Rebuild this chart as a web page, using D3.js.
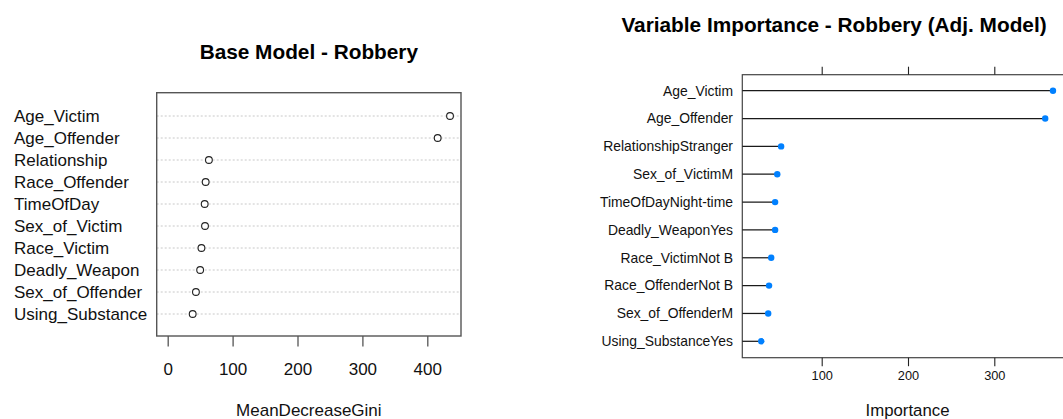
<!DOCTYPE html>
<html>
<head>
<meta charset="utf-8">
<script src="https://cdn.jsdelivr.net/npm/d3@7"></script>
<style>
  body { margin: 0; background: #fff; }
  svg { display: block; font-family: "Liberation Sans", Arial, sans-serif; }
</style>
</head>
<body>
<div id="chart"></div>
<script>
var svgWidth = 1063;
var svgHeight = 419;

// left panel: randomForest varImpPlot
var baseVars = ["Age_Victim", "Age_Offender", "Relationship", "Race_Offender", "TimeOfDay",
  "Sex_of_Victim", "Race_Victim", "Deadly_Weapon", "Sex_of_Offender", "Using_Substance"];
var baseGini = [435, 416, 63.5, 58.5, 57, 57.5, 52, 50, 43.5, 38.5];
var baseTicks = [0, 100, 200, 300, 400];

// right panel: caret varImp
var adjVars = ["Age_Victim", "Age_Offender", "RelationshipStranger", "Sex_of_VictimM", "TimeOfDayNight-time",
  "Deadly_WeaponYes", "Race_VictimNot B", "Race_OffenderNot B", "Sex_of_OffenderM", "Using_SubstanceYes"];
var adjImp = [368, 359, 53, 48.5, 46, 46, 41.5, 39, 38, 30];
var adjTicks = [100, 200, 300];

var svg = d3.select("#chart").append("svg")
  .attr("width", svgWidth)
  .attr("height", svgHeight);

// ---------- left chart ----------
var box1 = {left: 156.7, right: 461, top: 92.7, bottom: 336};
var x1 = d3.scaleLinear().domain([0, 400]).range([167.7, 427.3]);
var y1 = d3.scalePoint().domain(baseVars).range([116, 314]);

var g1 = svg.append("g");

g1.append("text")
  .attr("x", (box1.left + box1.right) / 2)
  .attr("y", 59)
  .attr("text-anchor", "middle")
  .style("font-weight", "bold")
  .style("font-size", "20.8px")
  .text("Base Model - Robbery");

g1.selectAll(".dotline")
  .data(baseVars)
  .enter()
  .append("line")
  .attr("x1", box1.left)
  .attr("x2", box1.right)
  .attr("y1", d => y1(d))
  .attr("y2", d => y1(d))
  .attr("stroke", "#c8c8c8")
  .attr("stroke-width", 1)
  .attr("stroke-dasharray", "2,2");

g1.append("rect")
  .attr("x", box1.left)
  .attr("y", box1.top)
  .attr("width", box1.right - box1.left)
  .attr("height", box1.bottom - box1.top)
  .attr("fill", "none")
  .attr("stroke", "#555")
  .attr("stroke-width", 1.4);

g1.selectAll(".pt")
  .data(baseVars)
  .enter()
  .append("circle")
  .attr("cx", (d, i) => x1(baseGini[i]))
  .attr("cy", d => y1(d))
  .attr("r", 3.4)
  .attr("fill", "#fff")
  .attr("stroke", "#222")
  .attr("stroke-width", 1.1);

g1.selectAll(".lab")
  .data(baseVars)
  .enter()
  .append("text")
  .attr("x", 14)
  .attr("y", d => y1(d) + 6)
  .style("font-size", "17px")
  .attr("fill", "#111")
  .text(d => d);

var xAxis1 = d3.axisBottom(x1).tickValues(baseTicks).tickSize(10.5).tickPadding(16);
g1.append("g")
  .attr("transform", `translate(0, ${box1.bottom})`)
  .call(xAxis1)
  .call(g => g.select(".domain").remove())
  .call(g => g.selectAll(".tick line").attr("stroke", "#555").attr("stroke-width", 1.3))
  .call(g => g.selectAll(".tick text")
    .attr("fill", "#111")
    .style("font-family", "'Liberation Sans', Arial, sans-serif")
    .style("font-size", "17px"));

g1.append("text")
  .attr("x", (box1.left + box1.right) / 2)
  .attr("y", 415.5)
  .attr("text-anchor", "middle")
  .style("font-size", "17px")
  .attr("fill", "#111")
  .text("MeanDecreaseGini");

// ---------- right chart ----------
var box2 = {left: 742.3, right: 1075, top: 74.7, bottom: 357.7};
var x2 = d3.scaleLinear().domain([100, 300]).range([821.7, 994.3]);
var y2 = d3.scalePoint().domain(adjVars).range([90.7, 341.3]);

var g2 = svg.append("g");

g2.append("text")
  .attr("x", 834)
  .attr("y", 32.3)
  .attr("text-anchor", "middle")
  .style("font-weight", "bold")
  .style("font-size", "20.8px")
  .text("Variable Importance - Robbery (Adj. Model)");

g2.append("rect")
  .attr("x", box2.left)
  .attr("y", box2.top)
  .attr("width", box2.right - box2.left)
  .attr("height", box2.bottom - box2.top)
  .attr("fill", "none")
  .attr("stroke", "#444")
  .attr("stroke-width", 1.2);

g2.selectAll(".stem")
  .data(adjVars)
  .enter()
  .append("line")
  .attr("x1", box2.left)
  .attr("x2", (d, i) => x2(adjImp[i]))
  .attr("y1", d => y2(d))
  .attr("y2", d => y2(d))
  .attr("stroke", "#1a1a1a")
  .attr("stroke-width", 1.25);

g2.selectAll(".dot")
  .data(adjVars)
  .enter()
  .append("circle")
  .attr("cx", (d, i) => x2(adjImp[i]))
  .attr("cy", d => y2(d))
  .attr("r", 3.2)
  .attr("fill", "#0080ff");

g2.selectAll(".lab")
  .data(adjVars)
  .enter()
  .append("text")
  .attr("x", 733)
  .attr("y", d => y2(d) + 4.8)
  .attr("text-anchor", "end")
  .style("font-size", "13.9px")
  .attr("fill", "#111")
  .text(d => d);

var xAxisTop = d3.axisTop(x2).tickValues(adjTicks).tickSize(8).tickFormat("");
g2.append("g")
  .attr("transform", `translate(0, ${box2.top})`)
  .call(xAxisTop)
  .call(g => g.select(".domain").remove())
  .call(g => g.selectAll(".tick line").attr("stroke", "#222").attr("stroke-width", 1.1));

var xAxisBottom = d3.axisBottom(x2).tickValues(adjTicks).tickSize(8.5).tickPadding(5);
g2.append("g")
  .attr("transform", `translate(0, ${box2.bottom})`)
  .call(xAxisBottom)
  .call(g => g.select(".domain").remove())
  .call(g => g.selectAll(".tick line").attr("stroke", "#222").attr("stroke-width", 1.1))
  .call(g => g.selectAll(".tick text")
    .attr("fill", "#111")
    .style("font-family", "'Liberation Sans', Arial, sans-serif")
    .style("font-size", "12.8px"));

g2.append("text")
  .attr("x", (x2(100) + x2(300)) / 2 - 0.5)
  .attr("y", 415.5)
  .attr("text-anchor", "middle")
  .style("font-size", "16.8px")
  .attr("fill", "#111")
  .text("Importance");
</script>
</body>
</html>
